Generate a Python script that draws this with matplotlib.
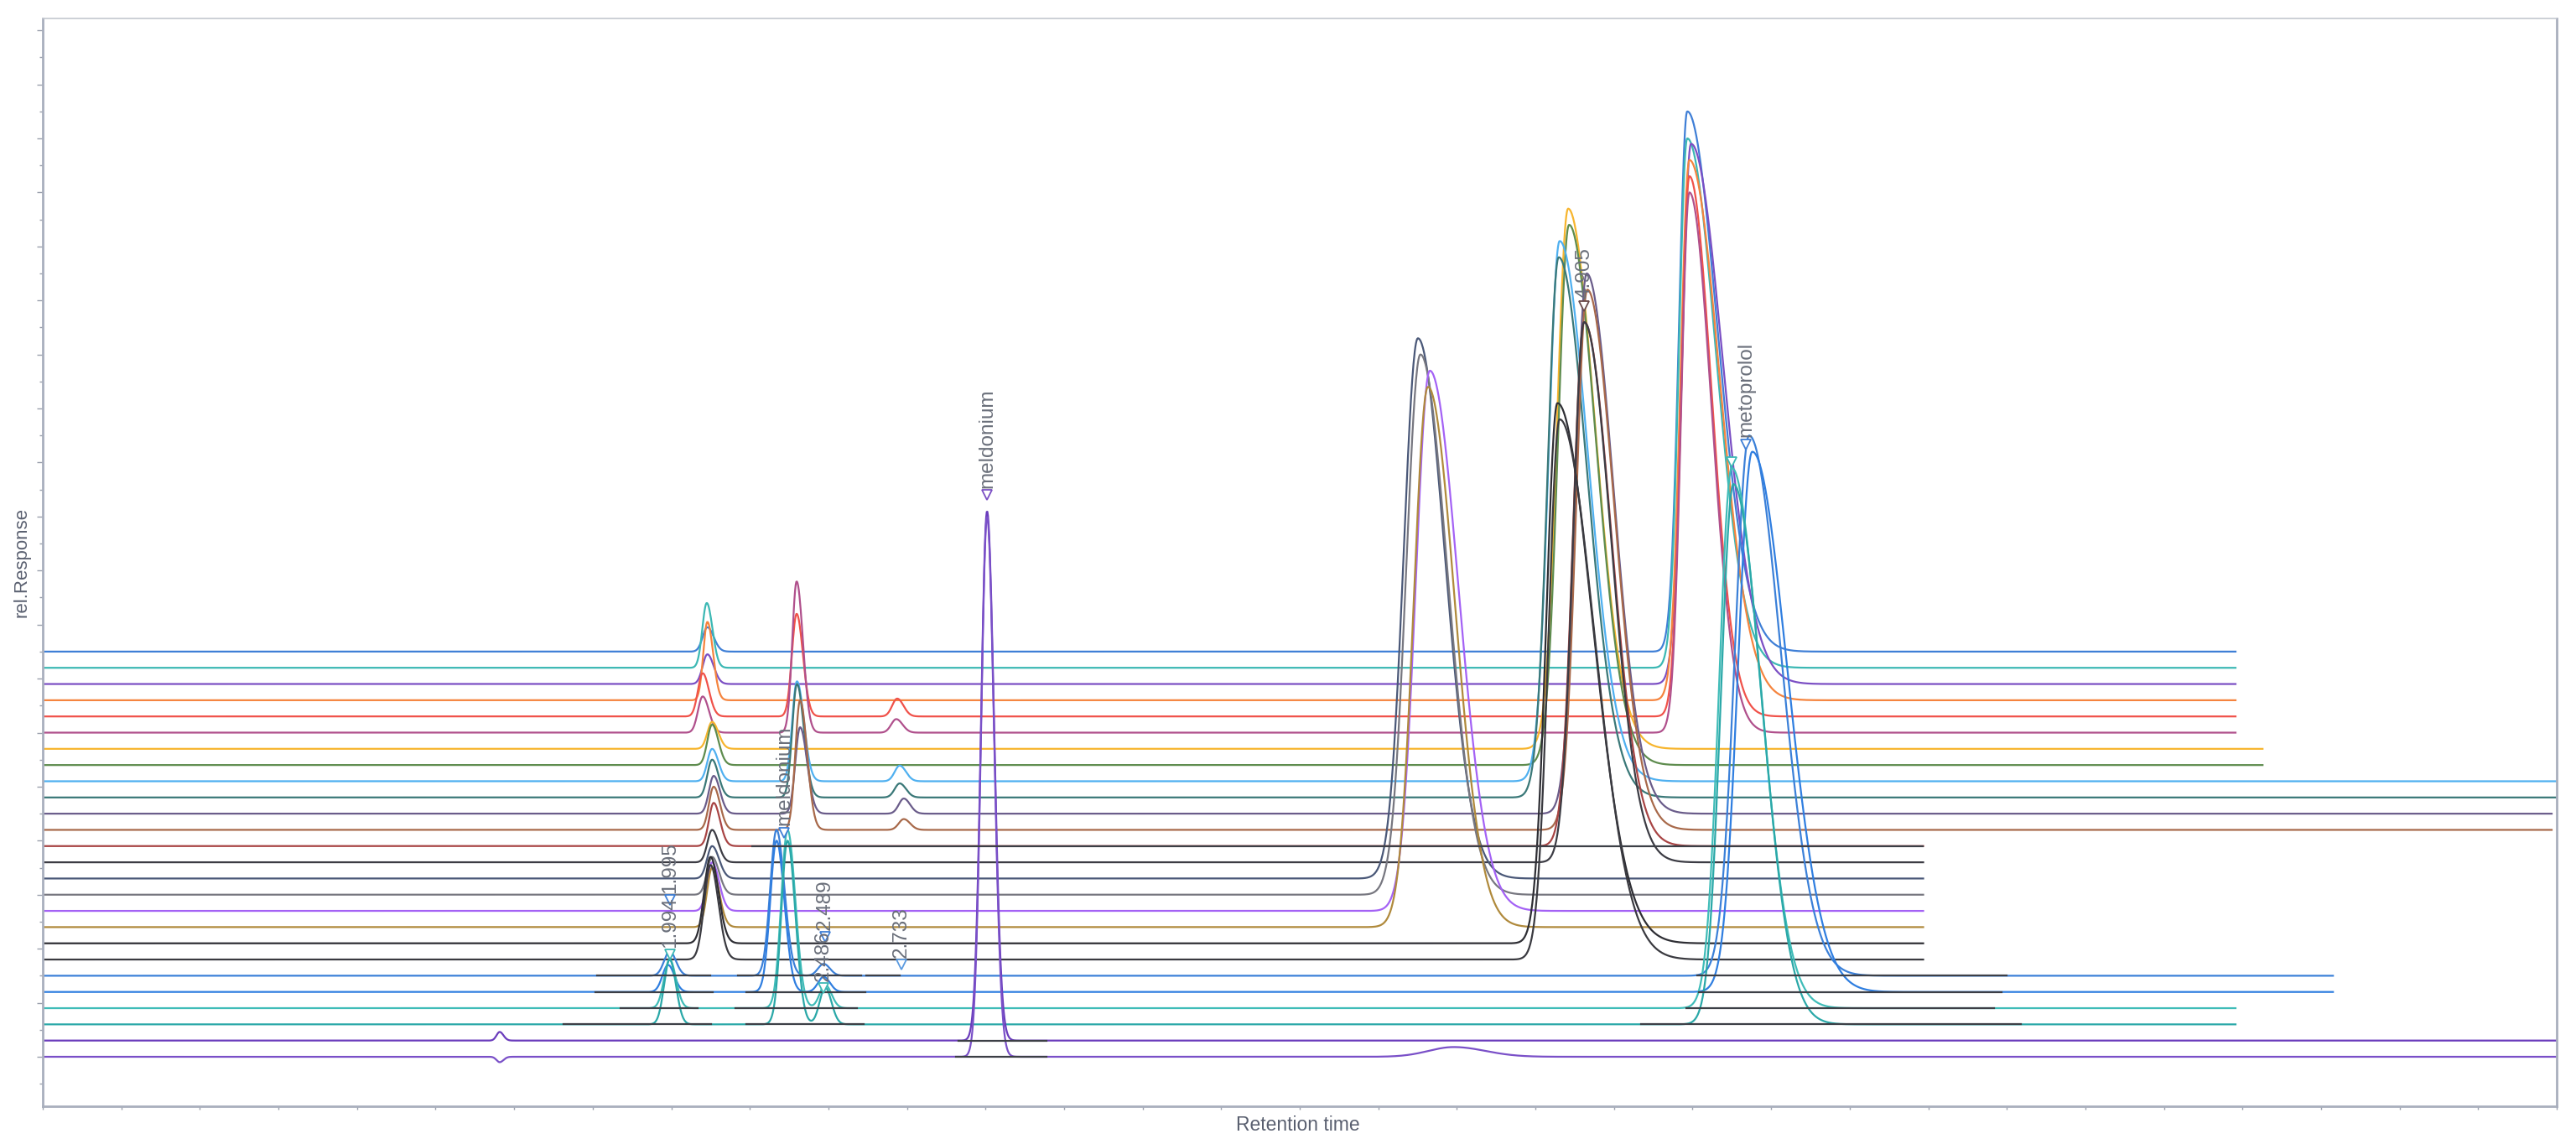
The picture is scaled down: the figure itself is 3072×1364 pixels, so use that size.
import numpy as np
import matplotlib.pyplot as plt
from matplotlib.ticker import MultipleLocator

plt.rcParams['font.family'] = ['Liberation Sans', 'DejaVu Sans']

# overlay of 26 chromatograms, listed from the top of the stack down.
# each one is shifted up by OFFSET (% rel. response) from the one below it
OFFSET = 3.0

COLORS = ['#3f7fd6', '#3cb8b4', '#7b4fc4', '#f5843e', '#f0524a', '#b0508c',
          '#f7b52e', '#5e8c4e', '#4fb0f0', '#3a7878', '#6a5c8a', '#a8694a',
          '#a84444', '#3c3c44', '#4a5878', '#777780', '#a462f5', '#b08a3c',
          '#2e2e34', '#3a3a40', '#3b80d8', '#2f7ee0', '#3fbcb8', '#2aa8a8',
          '#6a3cbc', '#7a50c8']

# last retention time recorded for each run [min]
T_END = [6.98, 6.98, 6.98, 6.98, 6.98, 6.98,
         7.065, 7.065, 8.0, 8.0, 7.985, 7.985,
         5.985, 5.985, 5.985, 5.985, 5.985, 5.985, 5.985, 5.985,
         7.29, 7.29, 6.98, 6.98, 8.0, 8.0]

# peaks per run: (retention time, height, left width, right width)
PEAKS = [
    [(2.115, 4.5, 0.015, 0.020), (5.233, 100, 0.026, 0.095)],
    [(2.113, 12.0, 0.014, 0.018), (5.233, 98, 0.026, 0.090)],
    [(2.115, 5.5, 0.015, 0.020), (5.245, 100, 0.028, 0.100)],
    [(2.115, 14.5, 0.013, 0.018), (5.240, 100, 0.028, 0.095)],
    [(2.100, 8.0, 0.015, 0.020), (2.399, 19.0, 0.015, 0.020),
     (2.719, 3.3, 0.016, 0.020), (5.240, 100, 0.026, 0.070)],
    [(2.100, 6.7, 0.015, 0.020), (2.399, 28.0, 0.014, 0.020),
     (2.716, 2.5, 0.016, 0.020), (5.240, 100, 0.026, 0.070)],
    [(2.130, 5.0, 0.015, 0.020), (4.854, 100, 0.035, 0.085)],
    [(2.130, 7.5, 0.015, 0.020), (4.857, 100, 0.035, 0.085)],
    [(2.130, 6.0, 0.015, 0.020), (2.400, 18.5, 0.015, 0.022),
     (2.727, 2.9, 0.016, 0.020), (4.827, 100, 0.035, 0.090)],
    [(2.130, 7.0, 0.015, 0.020), (2.400, 21.0, 0.015, 0.022),
     (2.727, 2.6, 0.016, 0.020), (4.824, 100, 0.035, 0.090)],
    [(2.135, 7.0, 0.015, 0.020), (2.410, 16.0, 0.015, 0.022),
     (2.740, 2.8, 0.016, 0.020), (4.913, 100, 0.035, 0.085)],
    [(2.135, 8.0, 0.015, 0.020), (2.410, 24.0, 0.015, 0.022),
     (2.740, 2.0, 0.016, 0.020), (4.915, 100, 0.035, 0.085)],
    [(2.135, 8.0, 0.015, 0.020), (4.905, 97, 0.035, 0.085)],
    [(2.130, 6.0, 0.015, 0.020), (4.905, 100, 0.035, 0.085)],
    [(2.130, 6.0, 0.016, 0.022), (4.376, 100, 0.045, 0.085)],
    [(2.130, 7.0, 0.016, 0.022), (4.384, 100, 0.045, 0.085)],
    [(2.130, 9.0, 0.016, 0.022), (4.414, 100, 0.045, 0.090)],
    [(2.130, 11.0, 0.016, 0.022), (4.408, 100, 0.045, 0.085)],
    [(2.125, 16.0, 0.020, 0.025), (4.820, 100, 0.035, 0.110)],
    [(2.125, 17.5, 0.020, 0.025), (4.827, 100, 0.035, 0.110)],
    [(1.995, 4.5, 0.018, 0.020), (2.335, 27, 0.020, 0.025),
     (2.485, 2.2, 0.018, 0.020), (5.430, 100, 0.045, 0.100)],
    [(1.990, 5.0, 0.018, 0.020), (2.335, 28, 0.020, 0.025),
     (2.485, 2.8, 0.018, 0.020), (5.440, 100, 0.045, 0.110)],
    [(1.995, 9.0, 0.018, 0.020), (2.370, 33, 0.020, 0.025),
     (2.490, 4.3, 0.018, 0.020), (5.375, 100, 0.040, 0.090)],
    [(1.995, 12.0, 0.018, 0.020), (2.370, 34, 0.020, 0.025),
     (2.490, 6.8, 0.018, 0.020), (5.380, 100, 0.040, 0.090)],
    [(1.454, 1.6, 0.010, 0.012), (3.005, 98, 0.019, 0.022)],
    [(1.454, -1.0, 0.010, 0.012), (3.005, 100, 0.019, 0.022),
     (4.490, 1.8, 0.080, 0.100)],
]

# integration baselines drawn in black: run index -> [(t0, t1), ...]
SEGMENTS = {
    12: [(2.258, 5.983)],
    20: [(1.764, 2.124), (2.212, 2.604), (2.620, 2.727), (5.265, 6.249)],
    21: [(1.758, 2.132), (2.239, 2.618), (5.270, 6.233)],
    22: [(1.839, 2.084), (2.204, 2.591), (5.230, 6.209)],
    23: [(1.657, 2.127), (2.239, 2.612), (5.086, 6.295)],
    24: [(2.914, 3.194)],
    25: [(2.906, 3.194)],
}

# peak annotations: (retention time, marker height, text, marker colour)
LABELS = [
    (1.995, 29.0, '1.995', '#3f7fd6'),
    (1.995, 18.9, '1.994', '#3cb8b4'),
    (2.360, 41.5, 'meldonium', '#3f7fd6'),
    (2.489, 22.2, '2.489', '#3f7fd6'),
    (2.484, 12.7, '2.486', '#3cb8b4'),
    (2.733, 17.1, '2.733', '#5a9ae0'),
    (3.005, 104.0, 'meldonium', '#7b4fc4'),
    (4.905, 139.0, '4.905', '#6a4a4a'),
    (5.420, 113.4, 'metoprolol', '#3f7fd6'),
    (5.375, 110.0, '', '#3cb8b4'),
]


def signal(peaks, t):
    y = np.zeros_like(t)
    for rt, h, wl, wr in peaks:
        w = np.where(t < rt, wl, wr)
        y += h * np.exp(-0.5 * ((t - rt) / w) ** 2)
    return y


fig = plt.figure(figsize=(30.72, 13.64), dpi=100)
ax = fig.add_axes([51 / 3072, 45 / 1364, 2998 / 3072, 1297 / 1364])

n = len(COLORS)
for i, (c, t_end, pk) in enumerate(zip(COLORS, T_END, PEAKS)):
    base = OFFSET * (n - 1 - i)
    t = np.arange(0.0, t_end, 0.002)
    ax.plot(t, base + signal(pk, t), color=c, lw=1.6, solid_joinstyle='round')

for i, segs in SEGMENTS.items():
    base = OFFSET * (n - 1 - i)
    for t0, t1 in segs:
        ax.plot([t0, t1], [base, base], color='#3c3f46', lw=1.6)

for rt, y, txt, c in LABELS:
    ax.plot(rt, y, marker='v', ms=8, mfc='white', mec=c, mew=1.3, zorder=5)
    if txt:
        ax.annotate(txt, xy=(rt, y), xytext=(0, 6), textcoords='offset points',
                    rotation=90, ha='center', va='bottom', fontsize=17.5,
                    color='#6a6f7a', zorder=6)

ax.set_xlim(0, 8)
ax.set_ylim(-9.16, 192.2)
ax.xaxis.set_major_locator(MultipleLocator(1))
ax.xaxis.set_minor_locator(MultipleLocator(0.25))
ax.yaxis.set_major_locator(MultipleLocator(10))
ax.yaxis.set_minor_locator(MultipleLocator(5))
ax.tick_params(which='both', labelbottom=False, labelleft=False, color='#9aa0ad')
ax.tick_params(axis='y', which='major', length=5, width=1)
ax.tick_params(axis='y', which='minor', length=3, width=1)
ax.tick_params(axis='x', which='both', length=3, width=1)

for side in ['left', 'bottom', 'right']:
    ax.spines[side].set_color('#a9afbd')
    ax.spines[side].set_linewidth(2)
ax.spines['top'].set_color('#c4c8d0')
ax.spines['top'].set_linewidth(1.2)

fig.text(26 / 3072, 1 - 670 / 1364, 'rel.Response', rotation=90, ha='center',
         va='center', fontsize=16, color='#5a6070')
fig.text(1548 / 3072, 1 - 1342 / 1364, 'Retention time', ha='center',
         va='center', fontsize=16.5, color='#5a6070')

fig.savefig('out.png', dpi=100)
